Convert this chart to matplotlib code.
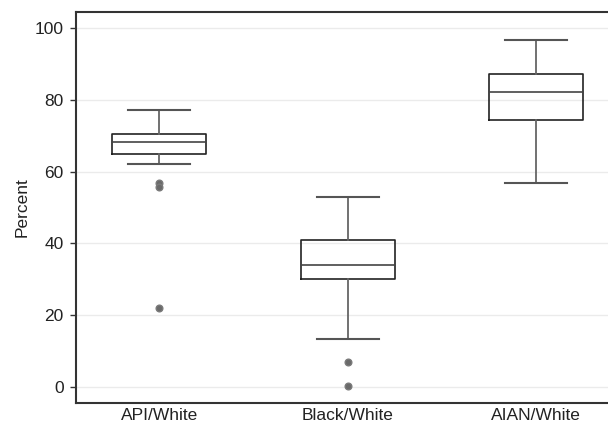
import matplotlib
matplotlib.use("Agg")
import matplotlib.pyplot as plt

categories = ["API/White", "Black/White", "AIAN/White"]
whislo = [62.1, 13.2, 56.7]
q1 = [65.0, 30.1, 74.4]
med = [68.4, 34.0, 82.3]
q3 = [70.4, 40.9, 87.3]
whishi = [77.3, 52.8, 96.6]
fliers = [[56.8, 55.7, 21.9], [6.8, 0.2], []]
yticks = [0, 20, 40, 60, 80, 100]

plt.rcParams['font.family'] = ['Liberation Sans', 'DejaVu Sans']

fig = plt.figure(figsize=(6.08, 4.26), dpi=100)
ax = fig.add_axes([0.1255, 0.0547, 0.893, 0.916])

stats = []
for i, c in enumerate(categories):
    stats.append(dict(label=c, whislo=whislo[i], q1=q1[i], med=med[i],
                      q3=q3[i], whishi=whishi[i], fliers=fliers[i]))

ax.bxp(stats, positions=[1, 2, 3], widths=0.5, capwidths=0.33,
       boxprops=dict(color="#222222", linewidth=1.2),
       medianprops=dict(color="#444444", linewidth=1.2),
       whiskerprops=dict(color="#666666", linewidth=1.3),
       capprops=dict(color="#555555", linewidth=1.5),
       flierprops=dict(marker="o", markerfacecolor="#6a6a6a",
                       markeredgecolor="#7a7a7a", markersize=4.8,
                       linestyle="none"))

ax.set_xlim(0.559, 3.441)
ax.set_ylim(-4.47, 104.4)
ax.set_yticks(yticks)
ax.yaxis.grid(True, color="#ebebeb", linewidth=1.0)
ax.set_axisbelow(True)
ax.tick_params(axis="x", length=0, labelsize=12.5, colors="#222222", pad=4)
ax.tick_params(axis="y", length=4, width=1, colors="#333333", labelsize=12.5,
               labelcolor="#222222", pad=5)
for s in ["left", "bottom", "top"]:
    ax.spines[s].set_color("#333333")
    ax.spines[s].set_linewidth(1.5)
ax.spines["right"].set_visible(False)
ax.set_ylabel("Percent", fontsize=12.5, color="#222222", labelpad=4)

fig.savefig("out.png", dpi=100)
